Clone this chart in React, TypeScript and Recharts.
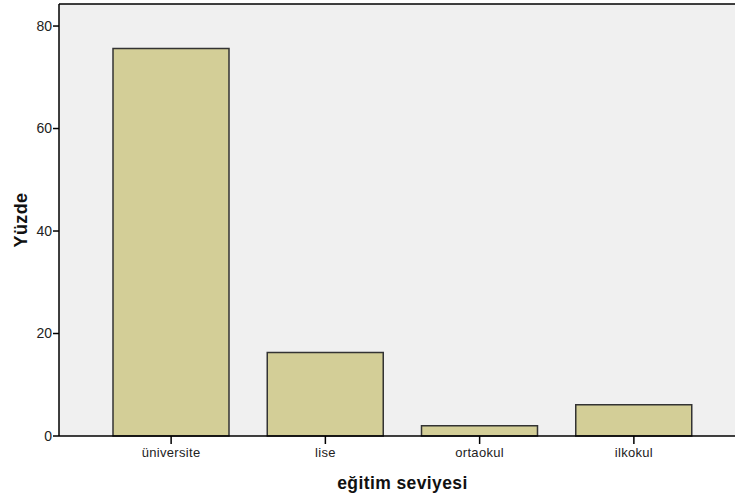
import { Bar, BarChart, CartesianGrid, Label, ReferenceLine, XAxis, YAxis } from "recharts";

const categories = ["üniversite", "lise", "ortaokul", "ilkokul"];
const percents = [75.6, 16.3, 2.0, 6.1];
const yTicks = [0, 20, 40, 60, 80];
const yMax = 84.3;

const data = categories.map((name, i) => ({ name, value: percents[i] }));

const font = "'Liberation Sans', Arial, sans-serif";

export default function App() {
  return (
    <div
      style={{
        position: "absolute",
        left: 0,
        top: 0,
        width: 735,
        height: 498,
        overflow: "hidden",
        background: "#ffffff",
        fontFamily: font,
      }}
    >
      <BarChart
        width={746}
        height={498}
        data={data}
        margin={{ top: 4, right: 0, bottom: 0, left: 0 }}
      >
        <CartesianGrid
          horizontal={false}
          vertical={false}
          fill="#f0f0f0"
        />
        <ReferenceLine y={yMax} stroke="#000" strokeWidth={1.5} />
        <XAxis
          dataKey="name"
          height={62}
          padding={{ left: 35, right: 35 }}
          axisLine={{ stroke: "#000", strokeWidth: 1.5 }}
          tickLine={{ stroke: "#000", strokeWidth: 1.5 }}
          tickSize={8}
          tickMargin={4}
          tick={{ fill: "#222", fontSize: 13, letterSpacing: 0.3, fontFamily: font }}
        >
          <Label
            value="eğitim seviyesi"
            position="insideBottom"
            offset={9}
            style={{ fontSize: 17.5, letterSpacing: 0.4, fontWeight: "bold", fill: "#111", fontFamily: font }}
          />
        </XAxis>
        <YAxis
          width={59}
          domain={[0, yMax]}
          ticks={yTicks}
          axisLine={{ stroke: "#000", strokeWidth: 1.5 }}
          tickLine={{ stroke: "#000", strokeWidth: 1.5 }}
          tickSize={6}
          tickMargin={1}
          tick={{ fill: "#222", fontSize: 14, fontFamily: font }}
        >
          <Label
            value="Yüzde"
            angle={-90}
            position="insideLeft"
            offset={21}
            style={{ fontSize: 18, letterSpacing: 0.4, fontWeight: "bold", fill: "#111", fontFamily: font, textAnchor: "middle" }}
          />
        </YAxis>
        <Bar
          dataKey="value"
          barSize={116}
          fill="#d3ce97"
          stroke="#333"
          strokeWidth={1.5}
          isAnimationActive={false}
        />
      </BarChart>
    </div>
  );
}
